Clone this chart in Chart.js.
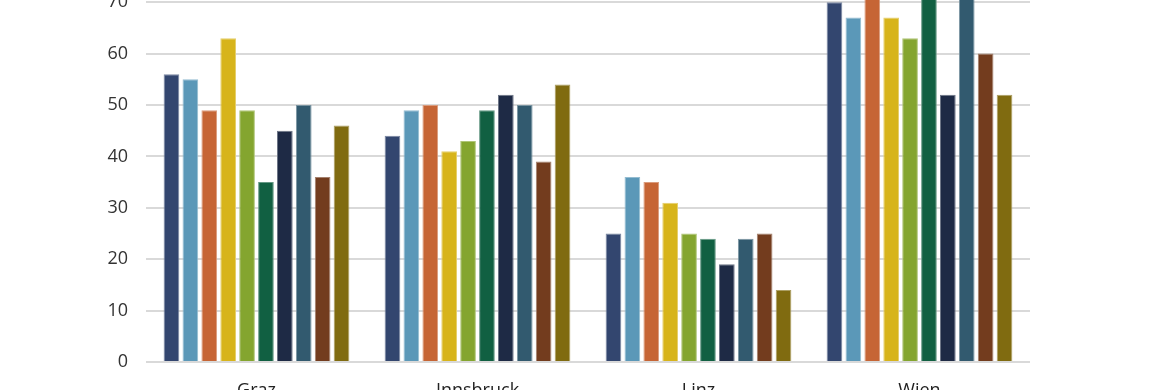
<!DOCTYPE html>
<html>
<head>
<meta charset="utf-8">
<script src="https://cdn.jsdelivr.net/npm/chart.js@4"></script>
<style>
  html, body { margin: 0; padding: 0; background: #fff; }
  #wrap { position: relative; width: 1170px; height: 390px; overflow: hidden; }
  #box { position: absolute; left: 0; top: -78px; width: 1170px; height: 480px; }
</style>
</head>
<body>
<div id="wrap"><div id="box"><canvas id="myChart"></canvas></div></div>
<script>
// categories and series
var cities = ['Graz', 'Innsbruck', 'Linz', 'Wien'];
var seriesNames = ['2010', '2011', '2012', '2013', '2014', '2015', '2016', '2017', '2018', '2019'];
var s1 = [56, 44, 25, 70];
var s2 = [55, 49, 36, 67];
var s3 = [49, 50, 35, 75];
var s4 = [63, 41, 31, 67];
var s5 = [49, 43, 25, 63];
var s6 = [35, 49, 24, 78];
var s7 = [45, 52, 19, 52];
var s8 = [50, 50, 24, 77];
var s9 = [36, 39, 25, 60];
var s10 = [46, 54, 14, 52];
var yTicks = [0, 10, 20, 30, 40, 50, 60, 70, 80];

var colors = ['#33466f', '#5b98b8', '#c66535', '#d7b41b', '#84a52f',
              '#116042', '#1e2a45', '#325a6f', '#733c1e', '#806b10'];

function tint(hex, f) {
    var r = parseInt(hex.substr(1, 2), 16), g = parseInt(hex.substr(3, 2), 16), b = parseInt(hex.substr(5, 2), 16);
    r = Math.round(r + (255 - r) * f); g = Math.round(g + (255 - g) * f); b = Math.round(b + (255 - b) * f);
    return 'rgb(' + r + ',' + g + ',' + b + ')';
}

var all = [s1, s2, s3, s4, s5, s6, s7, s8, s9, s10];
var datasets = [];
for (var i = 0; i < all.length; i++) {
    datasets.push({
        label: seriesNames[i],
        data: all[i],
        backgroundColor: colors[i],
        borderColor: tint(colors[i], 0.35),
        borderWidth: 1,
        categoryPercentage: 0.855,
        barPercentage: 0.83
    });
}

var ctx = document.getElementById('myChart').getContext('2d');
var myChart = new Chart(ctx, {
    type: 'bar',
    data: { labels: cities, datasets: datasets },
    options: {
        responsive: true,
        maintainAspectRatio: false,
        animation: false,
        layout: { padding: { top: 19, right: 140, left: 0, bottom: 0 } },
        plugins: { legend: { display: false }, tooltip: { enabled: false } },
        scales: {
            x: {
                grid: { display: false, drawTicks: false },
                border: { display: false },
                afterFit: function (scale) { scale.height = 40; },
                ticks: { color: '#222', padding: 18, font: { family: 'Open Sans', size: 18 } }
            },
            y: {
                min: 0,
                max: 80,
                afterBuildTicks: function (scale) {
                    scale.ticks = yTicks.map(function (v) { return { value: v }; });
                },
                afterFit: function (scale) { scale.width = 146; },
                grid: { color: '#d9d9d9', lineWidth: 2, drawTicks: false },
                border: { display: false },
                ticks: { color: '#333', padding: 18, font: { family: 'Open Sans', size: 18 } }
            }
        }
    }
});
</script>
</body>
</html>
